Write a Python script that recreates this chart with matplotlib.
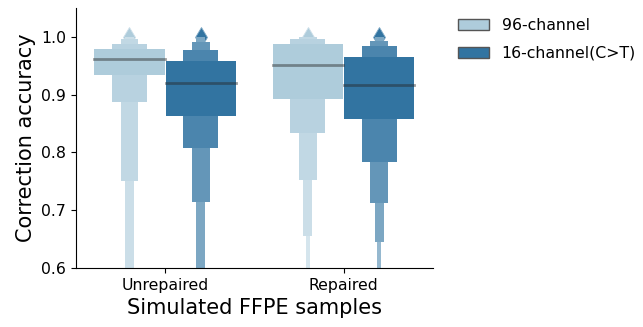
import matplotlib
matplotlib.use('Agg')
import matplotlib.pyplot as plt
from matplotlib.patches import Patch
import seaborn as sns

# letter-value boxes (widest level first)
groups = ['Unrepaired', 'Repaired']
hues = ['96-channel', '16-channel(C>T)']

unrep_96_low = [0.934, 0.888, 0.751, 0.55]
unrep_96_high = [0.979, 0.987, 0.996, 1.0]
unrep_16_low = [0.863, 0.808, 0.715, 0.55]
unrep_16_high = [0.958, 0.977, 0.991, 0.999]
rep_96_low = [0.892, 0.834, 0.753, 0.656, 0.55]
rep_96_high = [0.987, 0.996, 0.999, 1.0, 1.0]
rep_16_low = [0.857, 0.784, 0.713, 0.646, 0.55]
rep_16_high = [0.965, 0.984, 0.993, 0.9995, 1.0]

medians = {('Unrepaired', '96-channel'): 0.9615,
           ('Unrepaired', '16-channel(C>T)'): 0.9195,
           ('Repaired', '96-channel'): 0.951,
           ('Repaired', '16-channel(C>T)'): 0.917}
outlier_value = 1.0

boxes = {('Unrepaired', '96-channel'): (unrep_96_low, unrep_96_high),
         ('Unrepaired', '16-channel(C>T)'): (unrep_16_low, unrep_16_high),
         ('Repaired', '96-channel'): (rep_96_low, rep_96_high),
         ('Repaired', '16-channel(C>T)'): (rep_16_low, rep_16_high)}

base = [sns.desaturate(c, 0.75) for c in sns.color_palette('Paired')[:2]]


def mix_white(c, f):
    """Blend colour c towards white by fraction f"""
    return tuple(v + (1 - v) * f for v in c)


fig = plt.figure(figsize=(6.43, 3.27), dpi=100)
ax = fig.add_axes([0.118, 0.18, 0.555, 0.796])

width = 0.394
for gi, g in enumerate(groups):
    for hi, h in enumerate(hues):
        x = gi + (hi - 0.5) * 0.4
        low, high = boxes[(g, h)]
        for i in range(len(low)):
            w = width * 0.5 ** i
            col = mix_white(base[hi], 0.85 * i / 7)
            # wider levels sit on top of the narrower ones
            ax.bar(x, high[i] - low[i], bottom=low[i], width=w, color=col,
                   linewidth=0, zorder=2.5 - 0.05 * i)
        ax.plot([x], [outlier_value], marker='d', markersize=10,
                color=base[hi], markeredgecolor=mix_white(base[hi], 0.4),
                markeredgewidth=0.6, zorder=1.5, clip_on=False)
        m = medians[(g, h)]
        ax.plot([x - width / 2, x + width / 2], [m, m], color='.15',
                alpha=.45, lw=2, zorder=3)

ax.set_xlim(-0.5, 1.5)
ax.set_ylim(0.6, 1.05)
ax.set_xticks(range(len(groups)))
ax.set_xticklabels(groups, fontsize=11.3)
ax.set_yticks([0.6, 0.7, 0.8, 0.9, 1.0])
ax.set_yticklabels(['0.6', '0.7', '0.8', '0.9', '1.0'], fontsize=11.3)
ax.set_xlabel('Simulated FFPE samples', fontsize=15)
ax.set_ylabel('Correction accuracy', fontsize=15)
ax.spines['top'].set_visible(False)
ax.spines['right'].set_visible(False)

handles = [Patch(facecolor=base[i], edgecolor='#555555', linewidth=1, label=h)
           for i, h in enumerate(hues)]
fig.legend(handles=handles, loc='upper left', bbox_to_anchor=(0.702, 0.963),
           frameon=False, fontsize=11.3, labelspacing=0.8, borderaxespad=0)

fig.savefig('out.png', dpi=100)
